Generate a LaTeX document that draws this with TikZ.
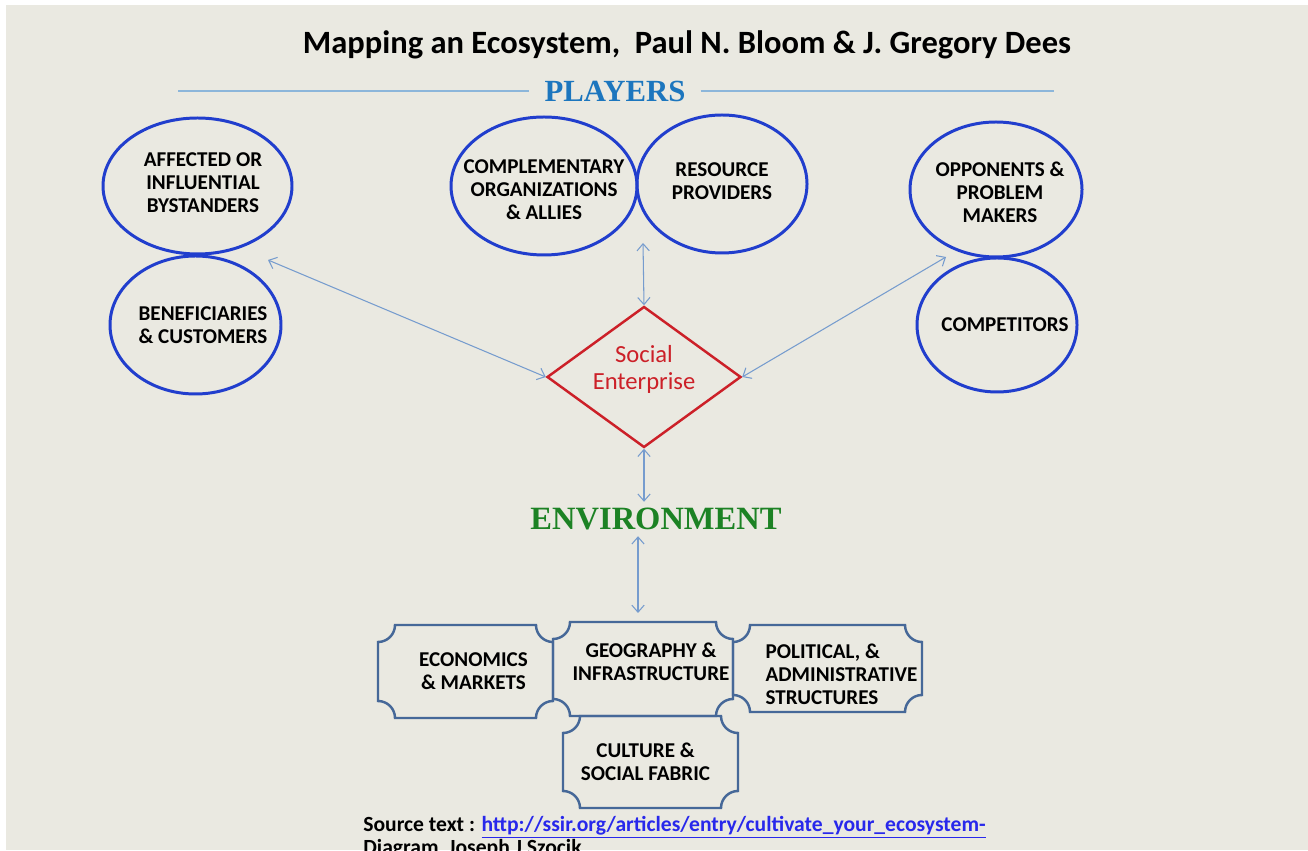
\documentclass[tikz,border=0pt]{standalone}
\usepackage{fontspec}
\setmainfont{Carlito}
\newfontfamily\headfont{Liberation Serif}
\usepackage{tikz}
\usetikzlibrary{shapes.geometric, arrows.meta}
\definecolor{slidegray}{RGB}{234, 233, 225}
\definecolor{playerblue}{RGB}{33, 62, 205}
\definecolor{enterprisered}{RGB}{204, 32, 40}
\definecolor{flowsteel}{RGB}{118, 156, 206}
\definecolor{headblue}{RGB}{28, 118, 190}
\definecolor{rulecyan}{RGB}{140, 182, 218}
\definecolor{envgreen}{RGB}{28, 130, 36}
\definecolor{plaqueblue}{RGB}{70, 104, 152}
\definecolor{linkblue}{RGB}{40, 40, 235}
\definecolor{textblack}{RGB}{0, 0, 0}
\newcommand{\plaquer}{0.34cm}
\newcommand{\plaqueborder}[1]{%
  \draw[plaqueline] ([yshift=-\plaquer]#1.north west) arc[start angle=-90, end angle=0, radius=\plaquer]
    -- ([xshift=-\plaquer]#1.north east) arc[start angle=180, end angle=270, radius=\plaquer]
    -- ([yshift=\plaquer]#1.south east) arc[start angle=90, end angle=180, radius=\plaquer]
    -- ([xshift=\plaquer]#1.south west) arc[start angle=0, end angle=90, radius=\plaquer]
    -- cycle;}

\begin{document}
\begin{tikzpicture}[
    >={Straight Barb[length=4pt, width=7pt]},
    player/.style={ellipse, draw=playerblue, line width=1.7pt, inner sep=0pt},
    playertext/.style={align=center, text=textblack, font=\bfseries\fontsize{12}{13}\selectfont},
    enterprise/.style={diamond, draw=enterprisered, line width=1.4pt, minimum width=3.88cm, minimum height=2.82cm, inner sep=0pt},
    enterprisetext/.style={align=center, text=enterprisered, font=\fontsize{14}{15.3}\selectfont},
    plaque/.style={rectangle, inner sep=0pt, outer sep=0pt},
    plaquetext/.style={align=center, text=textblack, font=\bfseries\fontsize{12}{13}\selectfont},
    plaqueline/.style={draw=plaqueblue, line width=1.4pt},
    flow/.style={<->, line width=0.6pt, color=flowsteel},
    heading/.style={font=\headfont\bfseries\fontsize{17.5}{20}\selectfont},
    rule/.style={line width=0.8pt, color=rulecyan}
  ]

  % Slide background
  \fill[white] (0,0) rectangle (26.16,17);
  \fill[slidegray] (0.12,0) rectangle (26.16,16.90);
  \useasboundingbox (0,0) rectangle (26.16,17);

  % Title and headings
  \node[font=\bfseries\fontsize{18.5}{20}\selectfont] (title) at (13.74, 16.10) {Mapping an Ecosystem,~ Paul N. Bloom \& J. Gregory Dees};
  \node[heading, text=headblue, inner xsep=0.3cm] (players) at (12.30, 15.18) {PLAYERS};
  \coordinate (ruleleft) at (3.56, 15.18);
  \coordinate (ruleright) at (21.08, 15.18);
  \draw[rule] (ruleleft) -- (players.west);
  \draw[rule] (players.east) -- (ruleright);

  % Players
  \node[player, minimum width=3.78cm, minimum height=2.72cm, label={[playertext, xshift=0.11cm, yshift=0.06cm]center:AFFECTED OR\\INFLUENTIAL\\BYSTANDERS}] (bystanders) at (3.95, 13.28) {};
  \node[player, minimum width=3.42cm, minimum height=2.76cm, label={[playertext, xshift=0.15cm]center:BENEFICIARIES\\\& CUSTOMERS}] (beneficiaries) at (3.91, 10.50) {};
  \node[player, minimum width=3.72cm, minimum height=2.76cm, label={[playertext, yshift=-0.08cm]center:COMPLEMENTARY\\ORGANIZATIONS\\\& ALLIES}] (allies) at (10.88, 13.28) {};
  \node[player, minimum width=3.40cm, minimum height=2.76cm, label={[playertext, yshift=0.05cm]center:RESOURCE\\PROVIDERS}] (resources) at (14.44, 13.32) {};
  \node[player, minimum width=3.44cm, minimum height=2.70cm, label={[playertext, xshift=0.08cm, yshift=-0.05cm]center:OPPONENTS \&\\PROBLEM\\MAKERS}] (opponents) at (19.92, 13.21) {};
  \node[player, minimum width=3.20cm, minimum height=2.68cm, label={[playertext, xshift=0.16cm]center:COMPETITORS}] (competitors) at (19.94, 10.50) {};

  % Social enterprise
  \node[enterprise, label={[enterprisetext, yshift=0.15cm]center:Social\\Enterprise}] (enterprise) at (12.88, 9.46) {};

  % Environment
  \node[heading, text=envgreen, font=\headfont\bfseries\fontsize{18.5}{20}\selectfont] (environment) at (13.12, 6.62) {ENVIRONMENT};

  \node[plaque, minimum width=3.50cm, minimum height=1.86cm, label={[plaquetext, xshift=0.16cm]center:ECONOMICS\\\& MARKETS}] (economics) at (9.31, 3.57) {};
  \node[plaque, minimum width=3.60cm, minimum height=1.88cm, label={[plaquetext, xshift=0.16cm, yshift=0.15cm]center:GEOGRAPHY \&\\INFRASTRUCTURE}] (geography) at (12.86, 3.62) {};
  \node[plaque, minimum width=3.78cm, minimum height=1.74cm, label={[plaquetext, align=left, xshift=0.28cm, yshift=-0.12cm]center:POLITICAL, \&\\ADMINISTRATIVE\\STRUCTURES}] (political) at (16.55, 3.63) {};
  \node[plaque, minimum width=3.50cm, minimum height=1.84cm, label={[plaquetext, xshift=-0.10cm]center:CULTURE \&\\SOCIAL FABRIC}] (culture) at (13.01, 1.76) {};
  \plaqueborder{economics}
  \plaqueborder{geography}
  \plaqueborder{political}
  \plaqueborder{culture}

  % Links to the social enterprise
  \coordinate (alliesgap) at (12.86, 12.14);
  \coordinate (leftgap) at (5.36, 11.80);
  \coordinate (rightgap) at (18.92, 11.86);
  \coordinate (envfoot) at (12.76, 4.74);
  \draw[flow] (alliesgap) -- (enterprise.north);
  \draw[flow] (leftgap) -- (enterprise.west);
  \draw[flow] (rightgap) -- (enterprise.east);
  \draw[flow] (enterprise.south) -- (enterprise.south |- environment.north);
  \draw[flow] (environment.south -| envfoot) -- (envfoot);

  % Source
  \node[anchor=north west, align=left, inner sep=0pt, font=\bfseries\fontsize{12.3}{13}\selectfont] (source) at (7.26, 0.68) {Source text : \textcolor{linkblue}{\underline{http://ssir.org/articles/entry/cultivate\_your\_ecosystem-}}\\Diagram\ \ Joseph J Szocik};

\end{tikzpicture}
\end{document}
